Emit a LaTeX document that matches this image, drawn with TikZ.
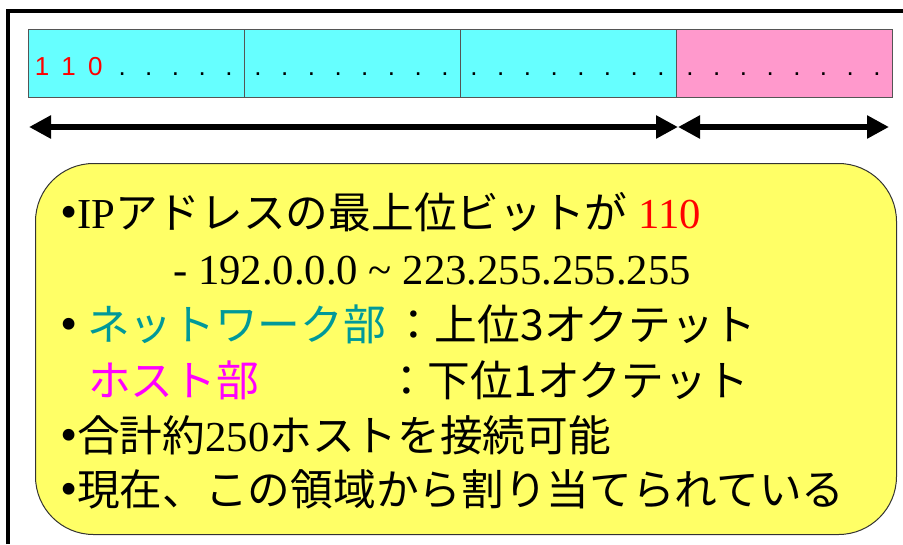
\documentclass[tikz,border=0pt]{standalone}
\usepackage{fontspec}
\setmainfont{Liberation Serif}
\newfontfamily\jp{Noto Sans CJK JP}
\newfontfamily\arl{Liberation Sans}
\usetikzlibrary{arrows.meta}
\definecolor{cellcyan}{HTML}{66FFFF}
\definecolor{cellpink}{HTML}{FF99CC}
\definecolor{boxyellow}{HTML}{FFFF66}
\definecolor{netteal}{HTML}{009999}
\definecolor{hostmag}{HTML}{FF00FF}
\definecolor{cellline}{HTML}{555555}
\newcommand{\bc}[1]{\makebox[26.7pt][c]{#1}}
\newcommand{\bul}{\makebox[17pt][l]{\raisebox{-0.02em}{\scalebox{1.15}{•}}}}
\begin{document}
\begin{tikzpicture}[x=1pt,y=-1pt,
  cellbox/.style={draw=cellline, line width=1pt, minimum width=216pt, minimum height=68pt, inner sep=0pt, outer sep=0pt, anchor=north west},
  bits/.style={anchor=base west, inner sep=0pt, font=\arl\fontsize{26}{30}\selectfont},
  span/.style={line width=6pt, {Triangle[length=22pt,width=22pt]}-{Triangle[length=22pt,width=22pt]}},
  txt/.style={anchor=base west, inner sep=0pt, font=\fontsize{42.7}{50}\selectfont}
]
\useasboundingbox (0,0) rectangle (903,544);
% outer frame (extends beyond the picture)
\draw[line width=3.5pt] (8,544) -- (8,11) -- (903,11);
% address bar
\node[cellbox, fill=cellcyan] (c1) at (28,29) {};
\node[cellbox, fill=cellcyan] (c2) at (244,29) {};
\node[cellbox, fill=cellcyan] (c3) at (460,29) {};
\node[cellbox, fill=cellpink] (c4) at (676,29) {};
\node[bits] (t1) at (28.5,75) {\color{red}\bc{1}\bc{1}\bc{0}\color{black}\bc{.}\bc{.}\bc{.}\bc{.}\bc{.}};
\node[bits] (t2) at (244.5,75) {\bc{.}\bc{.}\bc{.}\bc{.}\bc{.}\bc{.}\bc{.}\bc{.}};
\node[bits] (t3) at (460.5,75) {\bc{.}\bc{.}\bc{.}\bc{.}\bc{.}\bc{.}\bc{.}\bc{.}};
\node[bits] (t4) at (676.5,75) {\bc{.}\bc{.}\bc{.}\bc{.}\bc{.}\bc{.}\bc{.}\bc{.}};
% span arrows
\coordinate (a1) at (29,127);
\coordinate (a2) at (678,127);
\coordinate (a3) at (889,127);
\draw[span] (a1) -- (a2);
\draw[span] (a2) -- (a3);
% yellow box
\node[draw=black!80, line width=1pt, fill=boxyellow, rounded corners=58pt, minimum width=861pt, minimum height=371pt, inner sep=0pt, anchor=north west] (box) at (35,163) {};
% text lines
\node[txt] (l1) at (60,228) {\bul IP{\jp アドレスの最上位ビットが} \textcolor{red}{110}};
\node[txt] (l2) at (173,284) {- 192.0.0.0 \char`\~{} 223.255.255.255};
\node[txt] (l3) at (60,340) {\bul\hspace{10pt}{\jp\color{netteal}ネットワーク部}};
\node[txt] (l3b) at (392,340) {\jp ：上位3オクテット};
\node[txt] (l4) at (88,396) {\jp\color{hostmag}ホスト部};
\node[txt] (l4b) at (385,396) {\jp ：下位1オクテット};
\node[txt] (l5) at (60,451) {\bul{\jp 合計約}250{\jp ホストを接続可能}};
\node[txt] (l6) at (60,505) {\bul{\jp 現在、この領域から割り当てられている}};
\end{tikzpicture}
\end{document}
